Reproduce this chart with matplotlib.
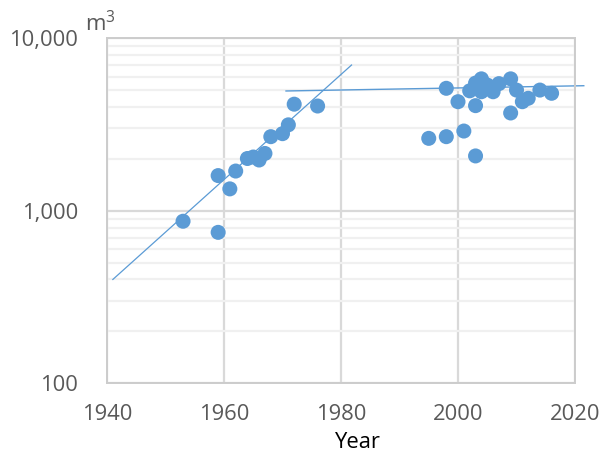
import matplotlib
matplotlib.use("Agg")
import matplotlib.pyplot as plt
from matplotlib.ticker import FixedLocator, FuncFormatter, LogLocator, NullFormatter

# ---- data ----
years = [1953, 1959, 1959, 1961, 1962, 1964, 1965, 1966, 1967, 1968, 1970, 1971,
         1972, 1976, 1995, 1998, 1998, 2000, 2001, 2002, 2003, 2003, 2003, 2004,
         2004, 2005, 2006, 2006, 2007, 2009, 2009, 2010, 2011, 2012, 2014, 2016]
volumes = [870, 750, 1600, 1340, 1700, 2010, 2050, 1970, 2150, 2690, 2800, 3150,
           4150, 4050, 2630, 2690, 5130, 4290, 2900, 4960, 5500, 4070, 2080, 5820,
           4900, 5360, 4900, 5100, 5460, 5820, 3690, 5010, 4290, 4490, 5010, 4800]

trend_early_years = [1941, 1981.8]
trend_early_values = [400, 7000]
trend_late_years = [1970.6, 2021.5]
trend_late_values = [4950, 5310]

x_ticks = [1940, 1960, 1980, 2000, 2020]
y_ticks = [100, 1000, 10000]
x_label = "Year"
unit_label = "m$^{\\mathrm{3}}$"

# ---- style ----
plt.rcParams['font.family'] = ['Open Sans', 'DejaVu Sans']
plt.rcParams['mathtext.fontset'] = 'custom'
plt.rcParams['mathtext.rm'] = 'Open Sans'

BLUE = '#5B9BD5'
TXT = '#595959'
W, H = 610, 457
FS = 15.8

fig = plt.figure(figsize=(W / 100, H / 100), dpi=100)
ax = fig.add_axes([107 / W, 1 - 383.3 / H, 468 / W, 345 / H])

ax.set_yscale('log')
ax.set_xlim(1940, 2020)
ax.set_ylim(100, 10000)

ax.xaxis.set_major_locator(FixedLocator(x_ticks))
ax.yaxis.set_major_locator(FixedLocator(y_ticks))
ax.yaxis.set_minor_locator(LogLocator(base=10, subs=range(2, 10)))
ax.yaxis.set_major_formatter(FuncFormatter(lambda v, p: f"{v:,.0f}"))
ax.yaxis.set_minor_formatter(NullFormatter())

ax.grid(True, which='minor', axis='y', color='#f0f0f0', lw=1.6, zorder=0)
ax.grid(True, which='major', axis='y', color='#d9d9d9', lw=1.6, zorder=0)
ax.grid(True, which='major', axis='x', color='#d9d9d9', lw=1.6, zorder=0)
ax.set_axisbelow(True)

for s in ax.spines.values():
    s.set_color('#cccccc')
    s.set_linewidth(1.4)

ax.tick_params(axis='both', which='both', length=0, colors=TXT, labelsize=FS)
ax.tick_params(axis='x', pad=15)
ax.tick_params(axis='y', pad=21)

ax.plot(trend_early_years, trend_early_values, color=BLUE, lw=0.9, zorder=2, clip_on=False)
ax.plot(trend_late_years, trend_late_values, color=BLUE, lw=1.0, zorder=2, clip_on=False)
ax.scatter(years, volumes, s=117, color=BLUE, edgecolors='none', zorder=3, clip_on=False)

fig.text(358 / W, 1 - 443 / H, x_label, ha='center', va='center', fontsize=FS, color='black')
fig.text(85 / W, 1 - 31.7 / H, unit_label, ha='left', va='baseline', fontsize=16, color=TXT)

fig.savefig('out.png', dpi=100)
